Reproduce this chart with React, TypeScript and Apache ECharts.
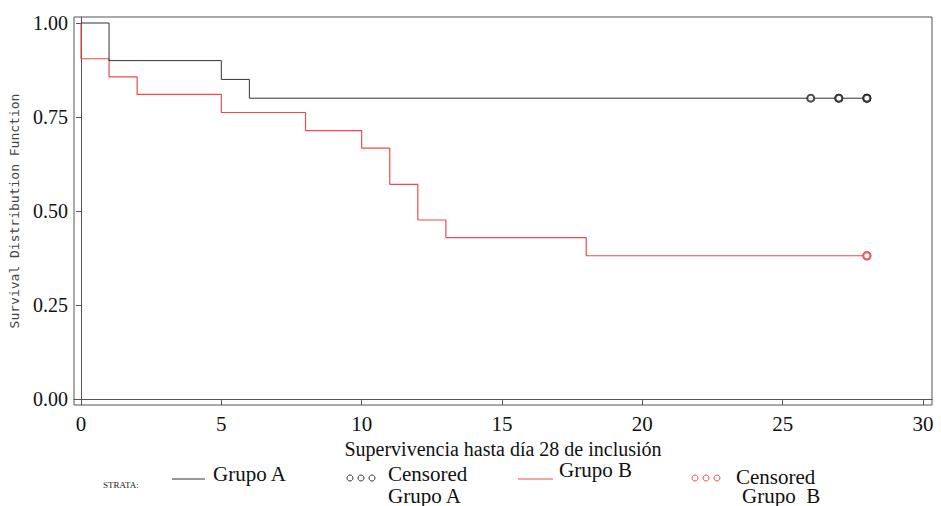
import React, { useEffect, useRef } from "react";
import * as echarts from "echarts";

const tickValuesX = [0, 5, 10, 15, 20, 25, 30];
const tickValuesY = [0, 0.25, 0.5, 0.75, 1];

// Kaplan-Meier steps: [day, survival]
const grupoA: [number, number][] = [
  [0, 1.0],
  [1, 0.9],
  [5, 0.85],
  [6, 0.8],
  [28, 0.8],
];
const grupoB: [number, number][] = [
  [0, 1.0],
  [0, 0.905],
  [1, 0.857],
  [2, 0.81],
  [5, 0.762],
  [8, 0.714],
  [10, 0.667],
  [11, 0.571],
  [12, 0.476],
  [13, 0.429],
  [18, 0.381],
  [28, 0.381],
];
const censoredA: [number, number][] = [
  [26, 0.8],
  [27, 0.8],
  [27, 0.8],
  [28, 0.8],
  [28, 0.8],
  [28, 0.8],
];
const censoredB: [number, number][] = [
  [28, 0.381],
  [28, 0.381],
  [28, 0.381],
];

const SERIF = "Liberation Serif";
const BLACK = "#333333";
const RED = "#f24a4a";

export default function App() {
  const ref = useRef<HTMLDivElement>(null);
  useEffect(() => {
    if (!ref.current) return;
    const chart = echarts.init(ref.current, null, { renderer: "svg" });
    const legendY = 478;
    chart.setOption({
      animation: false,
      backgroundColor: "#ffffff",
      textStyle: { fontFamily: SERIF },
      grid: {
        left: 73,
        right: 9,
        top: 17,
        bottom: 101,
        show: true,
        borderColor: "#555",
        borderWidth: 1,
        backgroundColor: "transparent",
      },
      xAxis: {
        type: "value",
        min: -0.249,
        max: 30.32,
        splitLine: { show: false },
        axisLine: { show: true, lineStyle: { color: "#555", width: 1 } },
        axisTick: {
          show: true,
          length: 6,
          customValues: tickValuesX,
          lineStyle: { color: "#555" },
        },
        axisLabel: {
          customValues: tickValuesX,
          margin: 8,
          formatter: (v: number) => `{t|${v}}`,
          rich: { t: { fontFamily: SERIF, fontSize: 21, color: "#111" } },
        },
        name: "Supervivencia hasta día 28 de inclusión",
        nameLocation: "middle",
        nameGap: 32,
        nameTextStyle: { fontFamily: SERIF, fontSize: 20, color: "#111" },
      },
      yAxis: {
        type: "value",
        min: -0.016,
        max: 1.016,
        splitLine: { show: false },
        axisLine: { show: true, lineStyle: { color: "#555", width: 1 } },
        axisTick: {
          show: true,
          length: 5,
          customValues: tickValuesY,
          lineStyle: { color: "#555" },
        },
        axisLabel: {
          customValues: tickValuesY,
          margin: 6,
          formatter: (v: number) => `{t|${v.toFixed(2)}}`,
          rich: { t: { fontFamily: SERIF, fontSize: 20, color: "#111" } },
        },
        name: "Survival Distribution Function",
        nameLocation: "middle",
        nameGap: 53,
        nameTextStyle: {
          fontFamily: "DejaVu Sans Mono",
          fontSize: 13,
          color: "#444",
        },
      },
      series: [
        {
          name: "Grupo A",
          type: "line",
          step: "end",
          data: grupoA,
          showSymbol: false,
          lineStyle: { color: BLACK, width: 1 },
          z: 3,
        },
        {
          name: "Grupo B",
          type: "line",
          step: "end",
          data: grupoB,
          showSymbol: false,
          lineStyle: { color: RED, width: 1.2 },
          z: 2,
        },
        {
          name: "Censored Grupo A",
          type: "scatter",
          data: censoredA,
          symbol: "emptyCircle",
          symbolSize: 7,
          itemStyle: { color: "#222", borderColor: "#222", borderWidth: 1.2 },
          z: 4,
        },
        {
          name: "Censored Grupo B",
          type: "scatter",
          data: censoredB,
          symbol: "emptyCircle",
          symbolSize: 7,
          itemStyle: { color: RED, borderColor: RED, borderWidth: 1.2 },
          z: 4,
        },
      ],
      graphic: [
        {
          type: "text",
          left: 103,
          top: 480,
          style: { text: "STRATA:", font: `9px ${SERIF}`, fill: "#222" },
        },
        {
          type: "line",
          shape: { x1: 172, y1: 479, x2: 205, y2: 479 },
          style: { stroke: BLACK, lineWidth: 1 },
        },
        {
          type: "text",
          left: 213,
          top: 463,
          style: { text: "Grupo A", font: `21px ${SERIF}`, fill: "#111" },
        },
        ...[350, 361, 372].map((cx) => ({
          type: "circle",
          shape: { cx, cy: legendY, r: 3 },
          style: { fill: "none", stroke: "#333", lineWidth: 1 },
        })),
        {
          type: "text",
          left: 388,
          top: 463,
          style: { text: "Censored", font: `21px ${SERIF}`, fill: "#111" },
        },
        {
          type: "text",
          left: 388,
          top: 485,
          style: { text: "Grupo A", font: `21px ${SERIF}`, fill: "#111" },
        },
        {
          type: "line",
          shape: { x1: 518, y1: 479, x2: 553, y2: 479 },
          style: { stroke: RED, lineWidth: 1 },
        },
        {
          type: "text",
          left: 559,
          top: 459,
          style: { text: "Grupo B", font: `21px ${SERIF}`, fill: "#111" },
        },
        ...[695, 706, 717].map((cx) => ({
          type: "circle",
          shape: { cx, cy: legendY, r: 3 },
          style: { fill: "none", stroke: RED, lineWidth: 1 },
        })),
        {
          type: "text",
          left: 736,
          top: 466,
          style: { text: "Censored", font: `21px ${SERIF}`, fill: "#111" },
        },
        {
          type: "text",
          left: 742,
          top: 485,
          style: { text: "Grupo  B", font: `21px ${SERIF}`, fill: "#111" },
        },
      ],
    });
    return () => chart.dispose();
  }, []);
  return <div ref={ref} style={{ width: 941, height: 506, position: "absolute", left: 0, top: 0 }} />;
}
